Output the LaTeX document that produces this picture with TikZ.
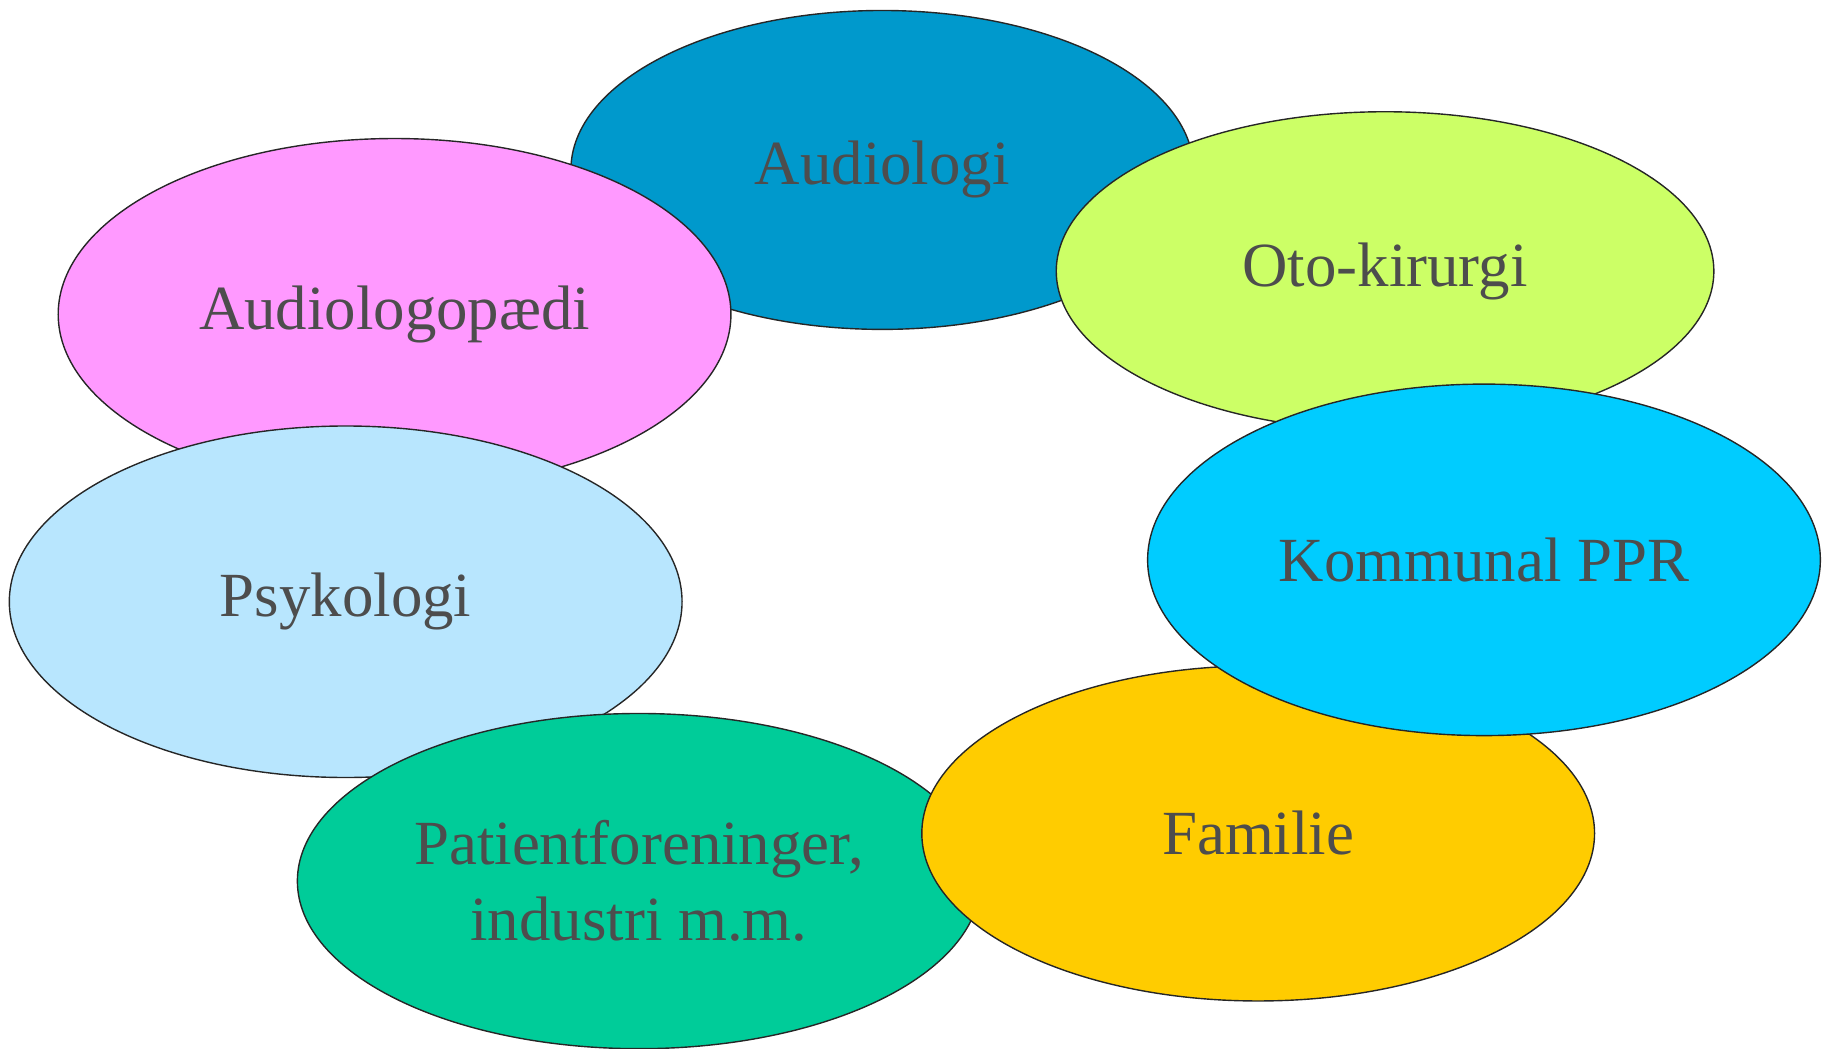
\documentclass[tikz,border=0pt]{standalone}
\usepackage{fontspec}
\setmainfont{Liberation Serif}
\usetikzlibrary{shapes.geometric}

\definecolor{audioblue}{HTML}{0099CC}
\definecolor{otogreen}{HTML}{CCFF66}
\definecolor{logopink}{HTML}{FF99FF}
\definecolor{psykblue}{HTML}{B8E6FE}
\definecolor{pprblue}{HTML}{00CCFF}
\definecolor{famyellow}{HTML}{FFCC00}
\definecolor{patgreen}{HTML}{00CC99}
\definecolor{labelgray}{HTML}{4D4D4D}

\tikzset{
  field/.style={ellipse, draw=black!85, line width=0.6pt, inner sep=0pt,
    text=labelgray, align=center,
    font=\fontsize{27}{32.5}\selectfont},
}

\begin{document}
\begin{tikzpicture}[x=0.5pt,y=-0.5pt]

            \useasboundingbox (0,0) rectangle (1568,901);

            % back to front
            \node[field, fill=audioblue, minimum width=267.5pt, minimum height=137pt] (audio) at (758,146) {Audiologi};
            \node[field, fill=logopink, minimum width=289pt, minimum height=151pt] (logo) at (339,270) {Audiologopædi};
            \node[field, fill=otogreen, minimum width=282.5pt, minimum height=137pt] (oto) at (1190,233) {Oto-kirurgi};
            \node[field, fill=psykblue, minimum width=289pt, minimum height=151pt] (psyk) at (297,517) {Psykologi};
            \node[field, fill=patgreen, minimum width=293.5pt, minimum height=144pt] (pat) at (549,757) {Patientforeninger,\\ industri m.m.};
            \node[field, fill=famyellow, minimum width=289pt, minimum height=144pt] (fam) at (1081,716) {Familie};
            \node[field, fill=pprblue, minimum width=289pt, minimum height=151pt] (ppr) at (1275,481) {Kommunal PPR};

\end{tikzpicture}
\end{document}
